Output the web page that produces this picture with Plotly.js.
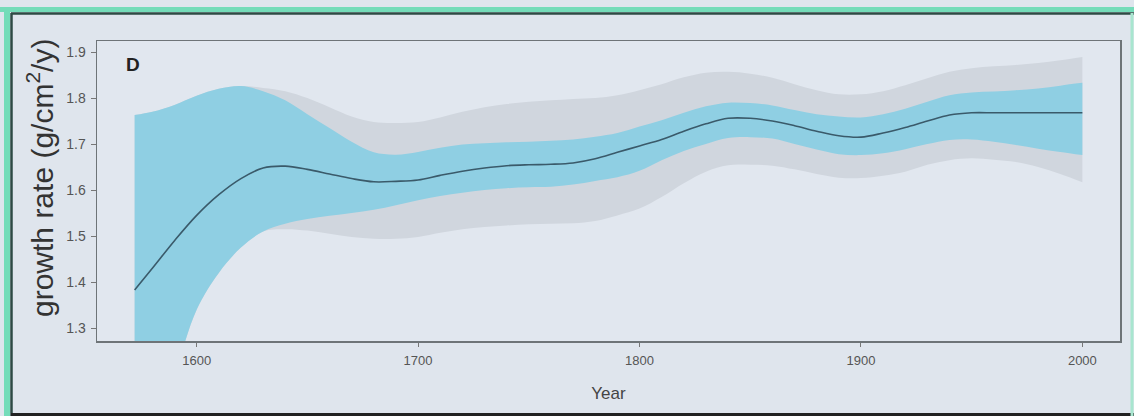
<!DOCTYPE html>
<html>
<head>
<meta charset="utf-8">
<script src="https://cdn.plot.ly/plotly-3.0.1.min.js"></script>
<style>
  html, body { margin: 0; padding: 0; background: #ffffff; }
  #chart { width: 1134px; height: 416px; }
</style>
</head>
<body>
<div id="chart"></div>
<script>
const years = [1572,1580,1590,1600,1610,1620,1630,1640,1650,1660,1670,1680,1690,1700,1710,1720,1730,1740,1750,1760,1770,1780,1790,1800,1810,1820,1830,1840,1850,1860,1870,1880,1890,1900,1910,1920,1930,1940,1950,1960,1970,1980,1990,2000];

const meanRate = [1.383,1.43,1.49,1.545,1.59,1.625,1.648,1.652,1.645,1.635,1.625,1.618,1.619,1.622,1.632,1.641,1.648,1.653,1.655,1.656,1.659,1.668,1.682,1.696,1.71,1.728,1.744,1.756,1.756,1.75,1.74,1.728,1.718,1.715,1.724,1.736,1.75,1.763,1.768,1.768,1.768,1.768,1.768,1.768];

const blueUpper = [1.763,1.77,1.785,1.805,1.82,1.826,1.815,1.795,1.765,1.735,1.705,1.682,1.677,1.683,1.692,1.699,1.702,1.704,1.705,1.707,1.71,1.716,1.724,1.738,1.752,1.768,1.782,1.79,1.789,1.784,1.774,1.765,1.76,1.758,1.765,1.777,1.792,1.806,1.812,1.814,1.817,1.821,1.827,1.833];

const blueLower = [1.0,1.08,1.2,1.34,1.42,1.475,1.51,1.527,1.537,1.544,1.55,1.557,1.567,1.578,1.587,1.594,1.6,1.604,1.606,1.607,1.612,1.62,1.628,1.642,1.665,1.685,1.7,1.713,1.715,1.712,1.7,1.688,1.678,1.676,1.68,1.689,1.7,1.709,1.71,1.705,1.698,1.69,1.683,1.676];

const greyUpper = [1.763,1.77,1.785,1.805,1.82,1.826,1.822,1.815,1.8,1.78,1.76,1.748,1.746,1.748,1.758,1.77,1.78,1.787,1.792,1.795,1.798,1.8,1.806,1.817,1.83,1.845,1.855,1.857,1.853,1.844,1.83,1.817,1.808,1.808,1.815,1.828,1.843,1.857,1.865,1.869,1.872,1.876,1.882,1.889];

const greyLower = [1.0,1.08,1.2,1.34,1.42,1.475,1.51,1.515,1.512,1.505,1.498,1.494,1.494,1.498,1.507,1.515,1.52,1.523,1.526,1.527,1.528,1.533,1.545,1.56,1.585,1.615,1.64,1.654,1.655,1.653,1.645,1.635,1.627,1.626,1.631,1.64,1.655,1.665,1.669,1.666,1.661,1.65,1.635,1.617];

const xTicks = [1600,1700,1800,1900,2000];
const yTicks = [1.3,1.4,1.5,1.6,1.7,1.8,1.9];

const W = 1134, H = 416;
const M = {l: 97, r: 14, t: 41, b: 75};
const pw = W - M.l - M.r, ph = H - M.t - M.b;
const px = v => (v - M.l) / pw;
const py = v => (H - M.b - v) / ph;

const traces = [
  {x: years, y: greyUpper, type: 'scatter', mode: 'lines', line: {width: 0, shape: 'spline'}, hoverinfo: 'skip', showlegend: false},
  {x: years, y: greyLower, type: 'scatter', mode: 'lines', line: {width: 0, shape: 'spline'}, fill: 'tonexty', fillcolor: '#d0d6de', hoverinfo: 'skip', showlegend: false},
  {x: years, y: blueUpper, type: 'scatter', mode: 'lines', line: {width: 0, shape: 'spline'}, hoverinfo: 'skip', showlegend: false},
  {x: years, y: blueLower, type: 'scatter', mode: 'lines', line: {width: 0, shape: 'spline'}, fill: 'tonexty', fillcolor: '#8fcfe3', hoverinfo: 'skip', showlegend: false},
  {x: years, y: meanRate, type: 'scatter', mode: 'lines', line: {width: 1.6, color: '#3a5a6a', shape: 'spline'}, showlegend: false}
];

const frame = [
  {type: 'rect', xref: 'paper', yref: 'paper', x0: px(0), x1: px(W), y0: py(12), y1: py(7), fillcolor: '#74dcb9', line: {width: 0}, layer: 'above'},
  {type: 'rect', xref: 'paper', yref: 'paper', x0: px(4), x1: px(10), y0: py(H), y1: py(7), fillcolor: '#74dcb9', line: {width: 0}, layer: 'above'},
  {type: 'line', xref: 'paper', yref: 'paper', x0: px(11), x1: px(W), y0: py(13.5), y1: py(13.5), line: {color: '#2e4a44', width: 2.5}, layer: 'above'},
  {type: 'line', xref: 'paper', yref: 'paper', x0: px(11.5), x1: px(11.5), y0: py(H), y1: py(13), line: {color: '#2e4a44', width: 2.5}, layer: 'above'},
  {type: 'line', xref: 'paper', yref: 'paper', x0: px(11), x1: px(W), y0: py(414.5), y1: py(414.5), line: {color: '#222', width: 3}, layer: 'above'},
  {type: 'line', xref: 'paper', yref: 'paper', x0: px(1132), x1: px(1132), y0: py(H), y1: py(13), line: {color: '#a8e6cf', width: 3}, layer: 'above'}
];

const layout = {
  width: W, height: H,
  margin: M,
  paper_bgcolor: '#dfe5ed',
  plot_bgcolor: '#e1e7ef',
  font: {family: 'Liberation Sans, Arial, sans-serif', color: '#444'},
  xaxis: {
    range: [1555, 2017], tickvals: xTicks, ticktext: xTicks.map(String),
    showgrid: false, zeroline: false, showline: true, mirror: true,
    linecolor: '#6e7478', linewidth: 1.5,
    ticks: 'outside', ticklen: 4, tickcolor: '#777', tickwidth: 1,
    ticklabelstandoff: 3,
    tickfont: {size: 13, color: '#555'},
    title: {text: 'Year', font: {size: 17, color: '#444'}, standoff: 20}
  },
  yaxis: {
    range: [1.272, 1.924], tickvals: yTicks, ticktext: yTicks.map(v => v.toFixed(1)),
    showgrid: false, zeroline: false, showline: true, mirror: true,
    linecolor: '#6e7478', linewidth: 1.5,
    ticks: 'outside', ticklen: 5, tickcolor: '#777', tickwidth: 1,
    ticklabelstandoff: 2,
    tickfont: {size: 14, color: '#555'}
  },
  annotations: [
    {text: '<b>D</b>', xref: 'paper', yref: 'paper', x: px(124), y: py(64), xanchor: 'left', yanchor: 'middle', showarrow: false, font: {size: 19, color: '#222'}},
    {text: 'growth rate (g/cm<sup>2</sup>/y)', textangle: -90, xref: 'paper', yref: 'paper', x: px(40), y: py(178), xanchor: 'center', yanchor: 'middle', showarrow: false, font: {size: 30, color: '#333'}}
  ],
  shapes: frame
};

Plotly.newPlot('chart', traces, layout, {displayModeBar: false, staticPlot: true});
</script>
</body>
</html>
